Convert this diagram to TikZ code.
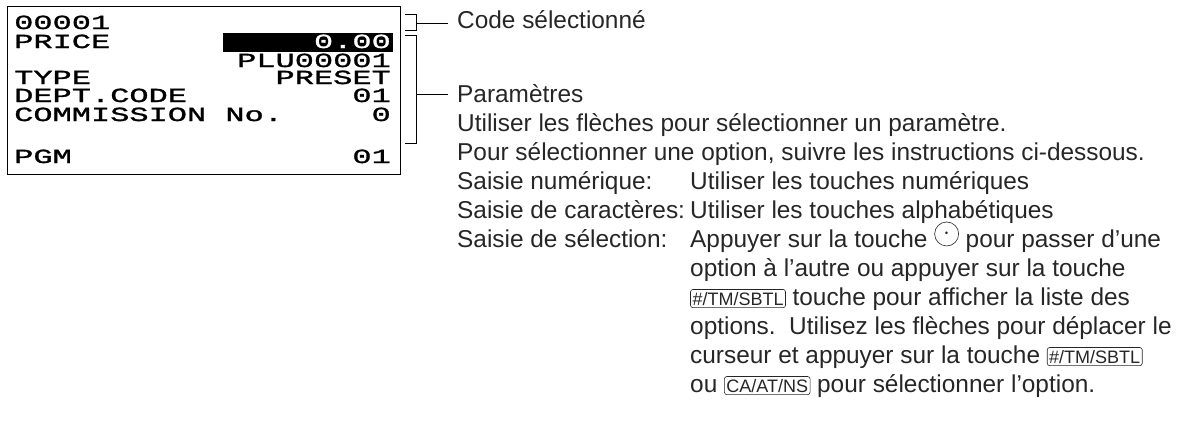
\documentclass[tikz,border=0pt]{standalone}
\usepackage{fontspec}
\setmainfont{Liberation Sans}
\newfontfamily\lcd{Liberation Mono}[FakeStretch=1.6,FakeBold=1.5]
\begin{document}
\begin{tikzpicture}[x=1pt,y=-1pt,
  lcdtxt/.style={font=\lcd\fontsize{20}{20}\selectfont,inner sep=0pt,anchor=base west},
  lcdr/.style={font=\lcd\fontsize{20}{20}\selectfont,inner sep=0pt,anchor=base east},
  body/.style={font=\fontsize{24.4}{24.4}\selectfont,inner sep=0pt,anchor=base west,text=black!85},
  keyb/.style={draw,rounded corners=2.5pt,inner xsep=2pt,inner ysep=2.5pt,font=\fontsize{18}{18}\selectfont,line width=0.6pt},
  brk/.style={line width=0.8pt}]
\useasboundingbox (0,0) rectangle (1187,431);
\node[draw,line width=1pt,minimum width=393,minimum height=168,anchor=north west,inner sep=0] (disp) at (7,6) {};
\fill (223,33) rectangle (393,52);
\node[lcdtxt] (l1) at (14,29) {00001};
\node[lcdtxt] (l2) at (14,48) {PRICE};
\node[lcdr,text=white] (v2) at (391,48) {0.00};
\node[lcdr] (v3) at (391,67) {PLU00001};
\node[lcdtxt] (l4) at (14,84) {TYPE};
\node[lcdr] (v4) at (391,84) {PRESET};
\node[lcdtxt] (l5) at (14,102) {DEPT.CODE};
\node[lcdr] (v5) at (391,102) {01};
\node[lcdtxt] (l6) at (14,121) {COMMISSION No.};
\node[lcdr] (v6) at (391,121) {0};
\node[lcdtxt] (l7) at (14,163) {PGM};
\node[lcdr] (v7) at (391,163) {01};
% brackets
\draw[brk] (405,14) -- (416,14) -- (416,30) -- (405,30);
\coordinate (b1) at (416,23);
\draw[brk] (405,35) -- (416,35) -- (416,143) -- (405,143);
\coordinate (b2) at (416,94);
\node[body] (code) at (457,28) {Code sélectionné};
\node[body] (param) at (457,102) {Paramètres};
\draw[brk] (b1) -- ([xshift=-9pt]code.west|-b1);
\draw[brk] (b2) -- ([xshift=-9pt]param.west|-b2);
\node[body] (t1) at (457,131) {Utiliser les flèches pour sélectionner un paramètre.};
\node[body] (t2) at (457,160) {Pour sélectionner une option, suivre les instructions ci-dessous.};
\node[body] (t3) at (457,189) {Saisie numérique:};
\node[body] (t3b) at (690,189) {Utiliser les touches numériques};
\node[body] (t4) at (457,218) {Saisie de caractères:};
\node[body] (t4b) at (690,218) {Utiliser les touches alphabétiques};
\node[body] (t5) at (457,247) {Saisie de sélection:};
\node[body] (t5b) at (690,247) {Appuyer sur la touche \tikz[baseline=-7.5pt]\node[draw,circle,minimum size=24pt,inner sep=0pt,line width=0.6pt]{$\cdot$}; pour passer d’une};
\node[body] (t6) at (690,276) {option à l’autre ou appuyer sur la touche};
\node[body] (t7) at (690,305) {\tikz[baseline=0pt]\node[keyb,anchor=base]{\#/TM/SBTL}; touche pour afficher la liste des};
\node[body] (t8) at (690,334) {options.\ \ Utilisez les flèches pour déplacer le};
\node[body] (t9) at (690,363) {curseur et appuyer sur la touche \tikz[baseline=0pt]\node[keyb,anchor=base]{\#/TM/SBTL};};
\node[body] (t10) at (690,392) {ou \tikz[baseline=0pt]\node[keyb,anchor=base]{CA/AT/NS}; pour sélectionner l’option.};
\end{tikzpicture}
\end{document}
